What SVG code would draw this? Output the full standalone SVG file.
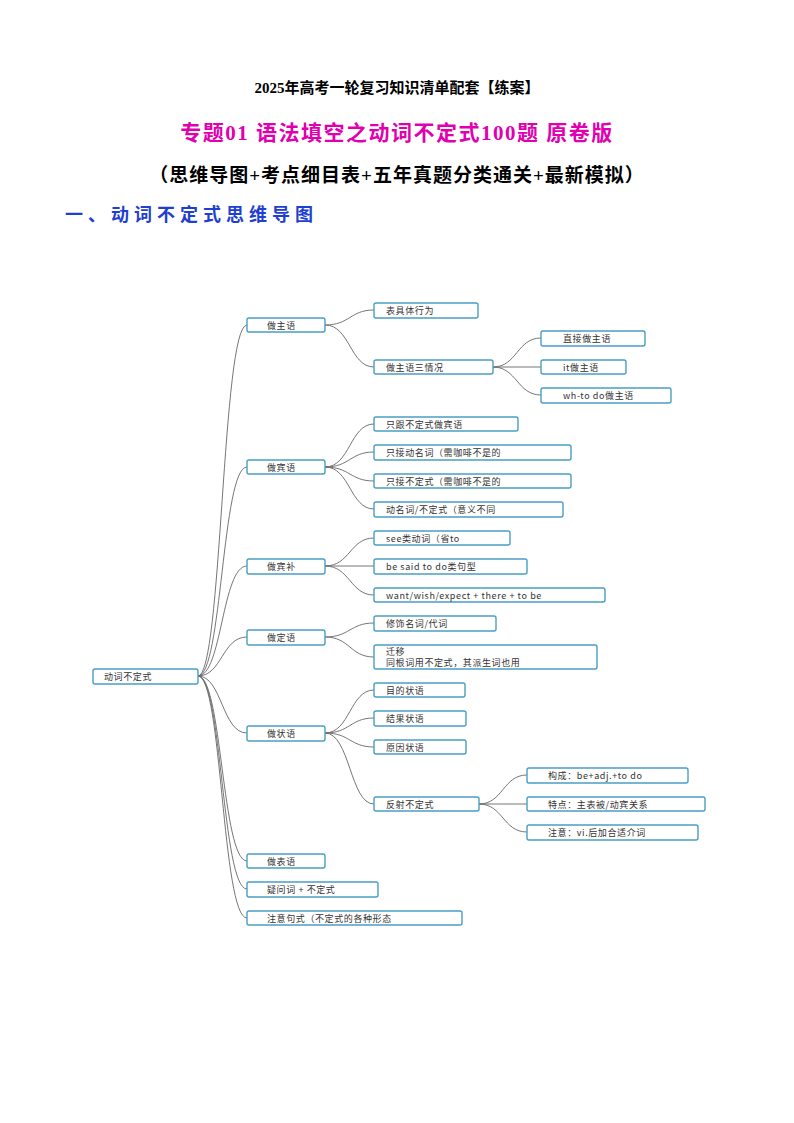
<svg xmlns="http://www.w3.org/2000/svg" width="794" height="1123" viewBox="0 0 794 1123">
<style>
.b{fill:#fff;stroke:#4a9fc4;stroke-width:1.4}
.t{font-family:"Noto Sans CJK SC","Liberation Sans",sans-serif;font-size:9px;fill:#333;letter-spacing:0.6px}
.c path{fill:none;stroke:#666;stroke-width:0.9}
.h{font-family:"Liberation Serif","Noto Sans CJK SC",serif;font-weight:bold;text-anchor:middle}
</style>
<rect width="794" height="1123" fill="#fff"/>
<text class="h" x="397" y="93" font-size="15" fill="#000">2025年高考一轮复习知识清单配套【练案】</text>
<text class="h" x="397" y="140" font-size="21" fill="#e000b0" letter-spacing="1.5">专题01  语法填空之动词不定式100题  原卷版</text>
<text class="h" x="397" y="182" font-size="19" fill="#000" letter-spacing="1">（思维导图+考点细目表+五年真题分类通关+最新模拟）</text>
<text x="65" y="221" font-family="Noto Sans CJK SC,sans-serif" font-weight="bold" font-size="18" fill="#1f3fd0" letter-spacing="5">一、动词不定式思维导图</text>
<g class="c">
<path d="M198,676 C222,676 222,325 247,325"/>
<path d="M198,676 C222,676 222,467 247,467"/>
<path d="M198,676 C222,676 222,566 247,566"/>
<path d="M198,676 C222,676 222,637 247,637"/>
<path d="M198,676 C222,676 222,733 247,733"/>
<path d="M198,676 C222,676 222,861 247,861"/>
<path d="M198,676 C222,676 222,889 247,889"/>
<path d="M198,676 C222,676 222,918 247,918"/>
<path d="M325,325 C350,325 350,310 374,310"/>
<path d="M325,325 C350,325 350,367 374,367"/>
<path d="M493,367 C517,367 517,338 541,338"/>
<path d="M493,367 L541,367"/>
<path d="M493,367 C517,367 517,395 541,395"/>
<path d="M325,467 C350,467 350,424 374,424"/>
<path d="M325,467 C350,467 350,452 374,452"/>
<path d="M325,467 C350,467 350,481 374,481"/>
<path d="M325,467 C350,467 350,509 374,509"/>
<path d="M325,566 C350,566 350,538 374,538"/>
<path d="M325,566 L374,566"/>
<path d="M325,566 C350,566 350,595 374,595"/>
<path d="M325,637 C350,637 350,623 374,623"/>
<path d="M325,637 C350,637 350,657 374,657"/>
<path d="M325,733 C350,733 350,690 374,690"/>
<path d="M325,733 C350,733 350,718 374,718"/>
<path d="M325,733 C350,733 350,747 374,747"/>
<path d="M325,733 C350,733 350,804 374,804"/>
<path d="M479,804 C503,804 503,775 527,775"/>
<path d="M479,804 L527,804"/>
<path d="M479,804 C503,804 503,832 527,832"/>
</g>
<g id="root"><rect class="b" x="93" y="669" width="105" height="15" rx="2"/><text class="t" x="104" y="680">动词不定式</text></g>
<g id="n1"><rect class="b" x="247" y="318" width="78" height="14" rx="2"/><text class="t" x="267" y="329">做主语</text></g>
<g id="n1a"><rect class="b" x="374" y="303" width="104" height="15" rx="2"/><text class="t" x="386" y="314">表具体行为</text></g>
<g id="n1b"><rect class="b" x="374" y="360" width="119" height="14" rx="2"/><text class="t" x="386" y="371">做主语三情况</text></g>
<g id="n1b1"><rect class="b" x="541" y="331" width="104" height="15" rx="2"/><text class="t" x="563" y="342">直接做主语</text></g>
<g id="n1b2"><rect class="b" x="541" y="360" width="85" height="14" rx="2"/><text class="t" x="563" y="371">it做主语</text></g>
<g id="n1b3"><rect class="b" x="541" y="388" width="130" height="15" rx="2"/><text class="t" x="563" y="399">wh-to do做主语</text></g>
<g id="n2"><rect class="b" x="247" y="460" width="78" height="14" rx="2"/><text class="t" x="267" y="471">做宾语</text></g>
<g id="n2a"><rect class="b" x="374" y="417" width="144" height="14" rx="2"/><text class="t" x="386" y="428">只跟不定式做宾语</text></g>
<g id="n2b"><rect class="b" x="374" y="445" width="197" height="15" rx="2"/><text class="t" x="386" y="456">只接动名词（需咖啡不是的</text></g>
<g id="n2c"><rect class="b" x="374" y="474" width="197" height="14" rx="2"/><text class="t" x="386" y="485">只接不定式（需咖啡不是的</text></g>
<g id="n2d"><rect class="b" x="374" y="502" width="189" height="15" rx="2"/><text class="t" x="386" y="513">动名词/不定式（意义不同</text></g>
<g id="n3"><rect class="b" x="247" y="559" width="78" height="15" rx="2"/><text class="t" x="267" y="570">做宾补</text></g>
<g id="n3a"><rect class="b" x="374" y="531" width="136" height="14" rx="2"/><text class="t" x="386" y="542">see类动词（省to</text></g>
<g id="n3b"><rect class="b" x="374" y="559" width="153" height="15" rx="2"/><text class="t" x="386" y="570">be said to do类句型</text></g>
<g id="n3c"><rect class="b" x="374" y="588" width="231" height="14" rx="2"/><text class="t" x="386" y="599">want/wish/expect + there + to be</text></g>
<g id="n4"><rect class="b" x="247" y="630" width="78" height="15" rx="2"/><text class="t" x="267" y="641">做定语</text></g>
<g id="n4a"><rect class="b" x="374" y="616" width="122" height="15" rx="2"/><text class="t" x="386" y="627">修饰名词/代词</text></g>
<g id="n4b"><rect class="b" x="374" y="645" width="223" height="24" rx="2"/><text class="t" x="386" y="655">迁移</text><text class="t" x="386" y="666">同根词用不定式，其派生词也用</text></g>
<g id="n5"><rect class="b" x="247" y="726" width="78" height="15" rx="2"/><text class="t" x="267" y="737">做状语</text></g>
<g id="n5a"><rect class="b" x="374" y="683" width="91" height="14" rx="2"/><text class="t" x="386" y="694">目的状语</text></g>
<g id="n5b"><rect class="b" x="374" y="711" width="92" height="15" rx="2"/><text class="t" x="386" y="722">结果状语</text></g>
<g id="n5c"><rect class="b" x="374" y="740" width="92" height="14" rx="2"/><text class="t" x="386" y="751">原因状语</text></g>
<g id="n5d"><rect class="b" x="374" y="797" width="105" height="14" rx="2"/><text class="t" x="386" y="808">反射不定式</text></g>
<g id="n5d1"><rect class="b" x="527" y="768" width="161" height="15" rx="2"/><text class="t" x="548" y="779">构成：be+adj.+to do</text></g>
<g id="n5d2"><rect class="b" x="527" y="797" width="178" height="14" rx="2"/><text class="t" x="548" y="808">特点：主表被/动宾关系</text></g>
<g id="n5d3"><rect class="b" x="527" y="825" width="171" height="15" rx="2"/><text class="t" x="548" y="836">注意：vi.后加合适介词</text></g>
<g id="n6"><rect class="b" x="247" y="854" width="78" height="14" rx="2"/><text class="t" x="267" y="865">做表语</text></g>
<g id="n7"><rect class="b" x="247" y="882" width="131" height="15" rx="2"/><text class="t" x="267" y="893">疑问词 + 不定式</text></g>
<g id="n8"><rect class="b" x="247" y="911" width="215" height="14" rx="2"/><text class="t" x="267" y="922">注意句式（不定式的各种形态</text></g>
</svg>
